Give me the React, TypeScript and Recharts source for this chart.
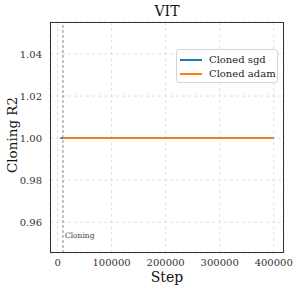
import { CartesianGrid, Line, LineChart, ReferenceLine, XAxis, YAxis } from "recharts";

const STEPS = [5000, 10000, 100000, 200000, 300000, 400000];
const SGD_R2 = [1.0, 1.0, 1.0, 1.0, 1.0, 1.0];
const ADAM_R2 = [null, 1.0, 1.0, 1.0, 1.0, 1.0];
const X_TICKS = [0, 100000, 200000, 300000, 400000];
const Y_TICKS = [0.96, 0.98, 1.0, 1.02, 1.04];
const CLONING_STEP = 10000;

const SERIES = [
  { key: "sgd", name: "Cloned sgd", color: "#1f77b4" },
  { key: "adam", name: "Cloned adam", color: "#ff7f0e" },
];

const data = STEPS.map((s, i) => ({ step: s, sgd: SGD_R2[i], adam: ADAM_R2[i] }));

const FONT = "'DejaVu Serif', serif";

function LegendBox() {
  return (
    <div
      style={{
        position: "absolute",
        left: 176,
        top: 49,
        width: 102,
        height: 34,
        boxSizing: "border-box",
        border: "1px solid #d8d8d8",
        borderRadius: 3,
        background: "#fff",
        padding: "3px 0 0 3px",
        fontFamily: FONT,
        fontSize: 10,
        color: "#222",
        lineHeight: "14px",
        whiteSpace: "nowrap",
      }}
    >
      {SERIES.map((s) => (
        <div key={s.key} style={{ display: "flex", alignItems: "center" }}>
          <span style={{ width: 22, height: 2, background: s.color, marginRight: 7, flexShrink: 0 }} />
          {s.name}
        </div>
      ))}
    </div>
  );
}

export default function App() {
  const tick = { fontSize: 10, fill: "#333", fontFamily: FONT };
  return (
    <div style={{ position: "absolute", left: 0, top: 0, width: 299, height: 292, background: "#fff" }}>
      <LineChart width={299} height={292} data={data} margin={{ top: 22, right: 15, bottom: 9, left: 10 }}>
        <CartesianGrid stroke="#e0e0e0" strokeDasharray="3 3" />
        <XAxis
          dataKey="step"
          type="number"
          domain={[-14000, 419000]}
          ticks={X_TICKS}
          tick={tick}
          tickLine={false}
          axisLine={false}
          height={30}
          tickMargin={0}
        />
        <YAxis
          type="number"
          domain={[0.9454, 1.0552]}
          ticks={Y_TICKS}
          tick={tick}
          tickFormatter={(v: number) => v.toFixed(2)}
          tickLine={false}
          axisLine={false}
          width={40}
          tickMargin={2}
        />
        <ReferenceLine
          x={CLONING_STEP}
          stroke="#888"
          strokeDasharray="3 2"
          label={(props: any) => {
            const vb = props.viewBox;
            return (
              <text x={vb.x + 2} y={vb.y + vb.height - 15} fontSize={7.5} fill="#444" fontFamily={FONT}>
                Cloning
              </text>
            );
          }}
        />
        {SERIES.map((s) => (
          <Line
            key={s.key}
            dataKey={s.key}
            name={s.name}
            stroke={s.color}
            strokeWidth={1.8}
            dot={false}
            isAnimationActive={false}
            connectNulls
          />
        ))}
      </LineChart>
      <LegendBox />
      <div
        style={{
          position: "absolute",
          left: 50,
          top: 22,
          width: 234,
          height: 231,
          boxSizing: "border-box",
          border: "1.3px solid #333",
          pointerEvents: "none",
        }}
      />
      <div style={{ position: "absolute", left: 50, width: 234, top: 3, textAlign: "center", fontFamily: FONT, fontSize: 14, color: "#111" }}>
        VIT
      </div>
      <div style={{ position: "absolute", left: 50, width: 234, top: 269, textAlign: "center", fontFamily: FONT, fontSize: 14, color: "#111" }}>
        Step
      </div>
      <div
        style={{
          position: "absolute",
          left: 12,
          top: 134.5,
          transform: "translate(-50%, -50%) rotate(-90deg)",
          whiteSpace: "nowrap",
          fontFamily: FONT,
          fontSize: 13.5,
          color: "#111",
        }}
      >
        Cloning R2
      </div>
    </div>
  );
}
